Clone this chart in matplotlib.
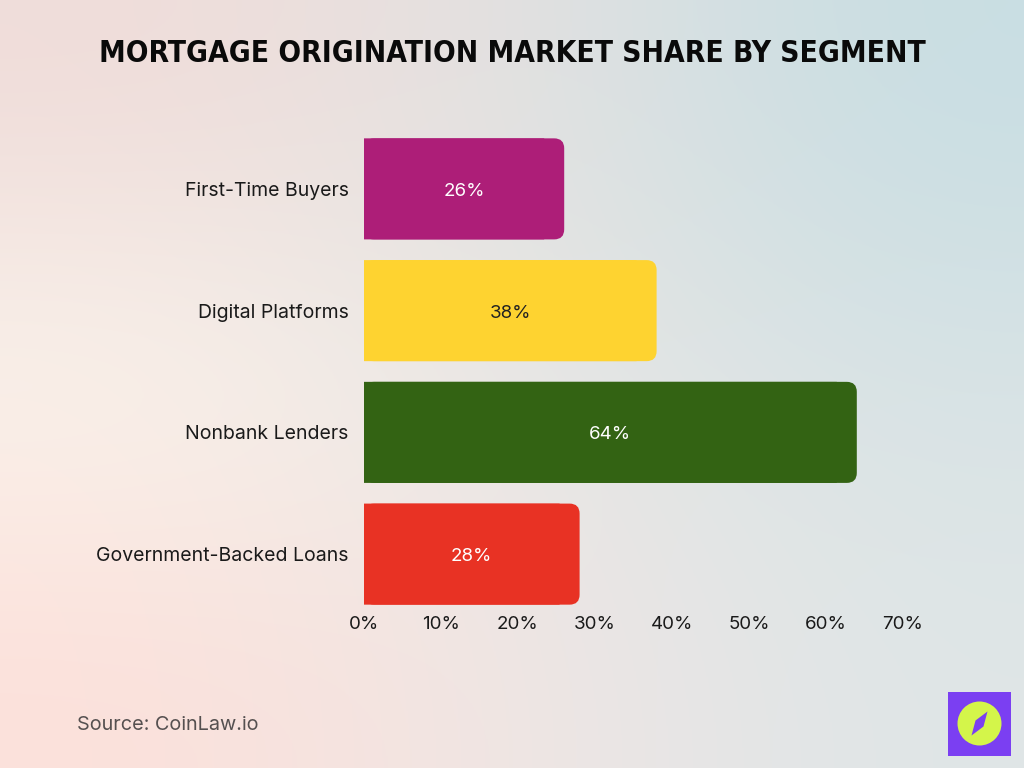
import os
import numpy as np
import matplotlib.pyplot as plt
from matplotlib.patches import FancyBboxPatch, Rectangle, Ellipse, Polygon
from matplotlib.colors import to_rgb
from matplotlib import font_manager

# ===== data =====
segments = ["First-Time Buyers", "Digital Platforms", "Nonbank Lenders", "Government-Backed Loans"]
shares = [26, 38, 64, 28]
bar_colors = ["#ad1e78", "#fed330", "#336313", "#e83224"]
label_colors = ["#ffffff", "#222222", "#ffffff", "#ffffff"]
xticks = [0, 10, 20, 30, 40, 50, 60, 70]
title = "MORTGAGE ORIGINATION MARKET SHARE BY SEGMENT"

plt.rcParams["font.family"] = ["Inter", "DejaVu Sans"]

# condensed font for title, if installed
cond = None
wanted = ["liberationsansnarrow-bold.ttf", "dejavusanscondensed-bold.ttf"]
fonts = {os.path.basename(f).lower(): f for f in font_manager.findSystemFonts()}
for w in wanted:
    if w in fonts:
        cond = fonts[w]
        break
print("condensed font:", cond)

fig = plt.figure(figsize=(10.24, 7.68), dpi=100)

# ===== background gradient =====
bg = fig.add_axes([0, 0, 1, 1])
grid = [["#f0dcd9", "#e4e2e1", "#c8dee3"],
        ["#fbf6ee", "#e9e7e4", "#d8e3e5"],
        ["#fce0da", "#f0e6e4", "#dfe6e7"]]
g = np.array([[to_rgb(c) for c in row] for row in grid])
bg.imshow(g, extent=[0, 1, 0, 1], aspect="auto", interpolation="bicubic", origin="upper")
bg.set_xlim(0, 1)
bg.set_ylim(0, 1)
bg.axis("off")

# ===== chart =====
ax = fig.add_axes([364 / 1024, 1 - 615 / 768, (903 - 364) / 1024, (615 - 128) / 768])
ax.patch.set_alpha(0)
y = np.arange(len(segments))
bars = ax.barh(y, shares, height=0.83, color=bar_colors)
ax.set_xlim(0, 70)
ax.set_ylim(len(segments) - 0.5, -0.5)

# rounded right corners
r = 1.3
asp = (7.7 / 122)
for bar, c in zip(bars, bar_colors):
    x0, y0, w, h = bar.get_x(), bar.get_y(), bar.get_width(), bar.get_height()
    ax.add_patch(FancyBboxPatch((x0, y0), w, h, boxstyle=f"round,pad=0,rounding_size={r}",
                                mutation_aspect=asp, fc=c, ec="none", snap=False))
    ax.add_patch(Rectangle((x0, y0), w - 2 * r, h, fc=c, ec="none", snap=False))
    bar.remove()

for i, v in enumerate(shares):
    ax.text(v / 2, i + 0.02, f"{v}%", ha="center", va="center", fontsize=13.5, color=label_colors[i])

ax.set_yticks(y)
ax.set_yticklabels(segments, fontsize=14, color="#1a1a1a")
ax.set_xticks(xticks)
ax.set_xticklabels([f"{t}%" for t in xticks], fontsize=13.5, color="#1a1a1a")
ax.tick_params(axis="x", length=0, pad=1)
ax.tick_params(axis="y", length=0, pad=11)
for s in ax.spines.values():
    s.set_visible(False)

# ===== title / source =====
if cond:
    fp = font_manager.FontProperties(fname=cond, size=28)
else:
    fp = font_manager.FontProperties(family="DejaVu Sans", weight="bold", stretch="condensed", size=28)
t = fig.text(0.5, 1 - 53 / 768, title, ha="center", va="center", fontproperties=fp, color="#0a0a0a")
# fit the title to the reference width (~827 px)
fig.canvas.draw()
tw = t.get_window_extent().width
fp.set_size(28 * 827 / tw)
t.set_fontproperties(fp)

fig.text(77 / 1024, 1 - 725 / 768, "Source: CoinLaw.io", ha="left", va="center", fontsize=14.3, color="#555050")

# ===== logo =====
cx, cy = 979.5 / 1024, 1 - 723.5 / 768
fig.patches.append(Rectangle((948 / 1024, 1 - 756 / 768), 63 / 1024, 64 / 768, transform=fig.transFigure,
                             fc="#7b3ff2", ec="none"))
fig.patches.append(Ellipse((cx, cy), 44 / 1024, 44 / 768, transform=fig.transFigure,
                           fc="#d4f54a", ec="none"))
diamond = [(cx + 8 / 1024, cy + 12 / 768), (cx + 4 / 1024, cy - 3 / 768),
           (cx - 8 / 1024, cy - 12 / 768), (cx - 4 / 1024, cy + 3 / 768)]
fig.patches.append(Polygon(diamond, closed=True, transform=fig.transFigure, fc="#7b3ff2", ec="none"))

fig.savefig("out.png", dpi=100)
